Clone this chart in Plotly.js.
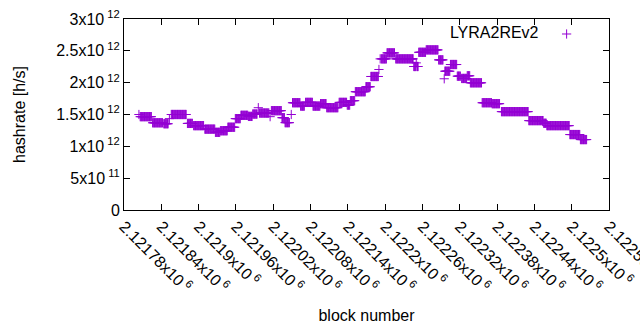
<!DOCTYPE html>
<html>
<head>
<meta charset="utf-8">
<script src="https://cdn.plot.ly/plotly-3.0.1.min.js"></script>
<style>html,body{margin:0;padding:0;background:#fff;}#chart{width:640px;height:330px;}</style>
</head>
<body>
<div id="chart"></div>
<script>
// Runs of consecutive blocks sharing the same hashrate (start block, end block, value in h/s)
const runStart = [2121804,2121806,2121826,2121844,2121853,2121856,2121882,2121892,2121910,2121927,
  2121935,2121947,2121959,2121968,2121980,2121987,2121996,2121998,2122015,2122017,
  2122034,2122039,2122049,2122051,2122064,2122072,2122084,2122096,2122106,2122126,
  2122139,2122144,2122152,2122169,2122177,2122190,2122192,2122194,2122203,2122217,
  2122246,2122250,2122251,2122254,2122266,2122286,2122295,2122296,2122305,2122316,
  2122323,2122332,2122337,2122356,2122372,2122387,2122431,2122455,2122460,2122497,2122514];
const runEnd = [2121804,2121824,2121842,2121851,2121853,2121880,2121890,2121908,2121926,2121934,
  2121946,2121958,2121967,2121979,2121986,2121994,2121996,2122013,2122015,2122033,
  2122038,2122046,2122049,2122063,2122070,2122083,2122095,2122105,2122124,2122138,
  2122143,2122151,2122168,2122176,2122189,2122190,2122192,2122202,2122215,2122245,
  2122249,2122250,2122253,2122265,2122285,2122293,2122295,2122304,2122315,2122321,
  2122331,2122336,2122355,2122371,2122384,2122430,2122454,2122459,2122496,2122513,2122524];
const runValue = [1.500e12,1.466e12,1.370e12,1.355e12,1.435e12,1.500e12,1.360e12,1.325e12,1.270e12,1.220e12,
  1.245e12,1.300e12,1.435e12,1.487e12,1.470e12,1.507e12,1.607e12,1.523e12,1.466e12,1.560e12,
  1.450e12,1.372e12,1.500e12,1.685e12,1.632e12,1.690e12,1.632e12,1.670e12,1.607e12,1.690e12,
  1.648e12,1.717e12,1.858e12,1.936e12,2.097e12,2.207e12,2.374e12,2.374e12,2.468e12,2.374e12,
  2.254e12,2.311e12,2.254e12,2.477e12,2.515e12,2.358e12,2.061e12,2.180e12,2.285e12,2.102e12,
  2.066e12,2.108e12,1.998e12,1.685e12,1.670e12,1.545e12,1.404e12,1.362e12,1.325e12,1.185e12,1.106e12];

const seriesName = 'LYRA2REv2';
const xTickVals = [2121780,2121840,2121900,2121960,2122020,2122080,2122140,2122200,2122260,2122320,2122380,2122440,2122500,2122560];
const xTickText = ['2.12178x10<sup> 6</sup>','2.12184x10<sup> 6</sup>','2.1219x10<sup> 6</sup>','2.12196x10<sup> 6</sup>',
  '2.12202x10<sup> 6</sup>','2.12208x10<sup> 6</sup>','2.12214x10<sup> 6</sup>','2.1222x10<sup> 6</sup>',
  '2.12226x10<sup> 6</sup>','2.12232x10<sup> 6</sup>','2.12238x10<sup> 6</sup>','2.12244x10<sup> 6</sup>',
  '2.1225x10<sup> 6</sup>','2.12256x10<sup> 6</sup>'];
const yTickVals = [0,0.5e12,1e12,1.5e12,2e12,2.5e12,3e12];
const yTickText = ['0','5x10<sup> 11</sup>','1x10<sup> 12</sup>','1.5x10<sup> 12</sup>','2x10<sup> 12</sup>','2.5x10<sup> 12</sup>','3x10<sup> 12</sup>'];

const xs = [], ys = [];
for (let i = 0; i < runStart.length; i++) {
  for (let b = runStart[i]; b <= runEnd[i]; b++) { xs.push(b); ys.push(runValue[i]); }
}

const font = {family: 'Liberation Sans, Arial, sans-serif', size: 16, color: '#000'};
const trace = {
  x: xs, y: ys, type: 'scatter', mode: 'markers', name: ' ',
  marker: {symbol: 'cross-thin', size: 6.6, color: '#9400d3', line: {color: '#9400d3', width: 1}},
  hoverinfo: 'x+y'
};
const layout = {
  width: 640, height: 330,
  margin: {l: 124, r: 31, t: 19, b: 120},
  paper_bgcolor: '#fff', plot_bgcolor: '#fff',
  font: font,
  showlegend: true,
  legend: {x: 0.975, xanchor: 'right', y: 1.01, yanchor: 'top', bgcolor: 'rgba(0,0,0,0)',
    title: {text: seriesName, side: 'left', font: font}, font: font},
  xaxis: {
    range: [2121780, 2122560], tickmode: 'array', tickvals: xTickVals, ticktext: xTickText,
    tickangle: 45, ticks: 'inside', ticklen: 6, tickcolor: '#000', mirror: 'allticks',
    showline: true, linecolor: '#000', linewidth: 1, showgrid: false, zeroline: false,
    tickfont: font, automargin: false, ticklabeloverflow: 'allow',
    title: {text: 'block number', font: font, standoff: 15}
  },
  yaxis: {
    range: [0, 3e12], tickmode: 'array', tickvals: yTickVals, ticktext: yTickText,
    ticks: 'inside', ticklen: 6, tickcolor: '#000', mirror: 'allticks',
    showline: true, linecolor: '#000', linewidth: 1, showgrid: false, zeroline: false,
    tickfont: font, automargin: false,
    title: {text: 'hashrate [h/s]', font: font, standoff: 26}
  }
};
Plotly.newPlot('chart', [trace], layout, {displayModeBar: false, staticPlot: true});
</script>
</body>
</html>
